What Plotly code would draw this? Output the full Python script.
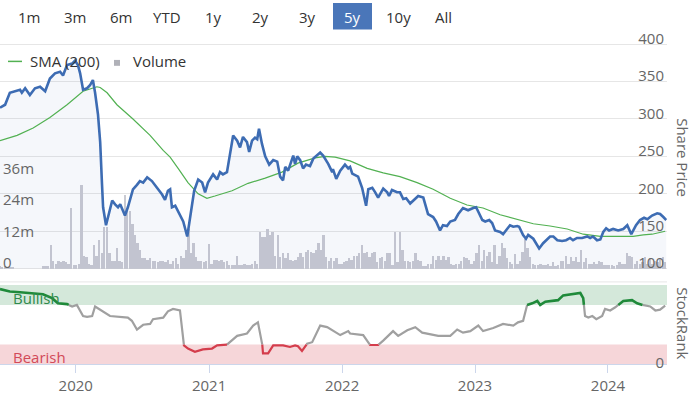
import numpy as np
import pandas as pd
import plotly.graph_objects as go

# ---------------- data ----------------
price_dates = [
    "2019-06-07", "2019-06-21", "2019-07-04", "2019-07-18", "2019-08-01", "2019-08-06", "2019-08-15", "2019-08-28",
    "2019-09-11", "2019-09-25", "2019-10-09", "2019-10-22", "2019-11-05", "2019-11-19", "2019-11-27", "2019-12-08",
    "2019-12-22", "2019-12-30",
    "2020-01-07", "2020-01-13", "2020-01-21", "2020-02-01", "2020-02-09", "2020-02-17", "2020-02-23", "2020-03-02",
    "2020-03-08", "2020-03-13", "2020-03-16", "2020-03-24", "2020-03-30", "2020-04-10", "2020-04-18", "2020-04-26",
    "2020-05-02", "2020-05-15", "2020-05-23", "2020-06-06", "2020-06-17", "2020-06-25", "2020-07-04", "2020-07-15",
    "2020-07-28", "2020-08-11", "2020-08-25", "2020-09-02", "2020-09-10", "2020-09-16", "2020-09-21", "2020-09-30",
    "2020-10-13", "2020-10-22", "2020-11-02", "2020-11-15", "2020-11-21", "2020-12-02", "2020-12-13", "2020-12-21",
    "2020-12-29",
    "2021-01-12", "2021-01-23", "2021-01-31", "2021-02-08", "2021-02-19", "2021-02-28", "2021-03-08", "2021-03-19",
    "2021-03-27", "2021-04-04", "2021-04-15", "2021-04-21", "2021-04-29", "2021-05-07", "2021-05-13", "2021-05-18",
    "2021-05-26", "2021-06-04", "2021-06-15", "2021-06-26", "2021-07-07", "2021-07-15", "2021-07-23", "2021-07-29",
    "2021-08-06", "2021-08-20", "2021-08-25", "2021-08-31", "2021-09-08", "2021-09-16", "2021-09-24", "2021-10-05",
    "2021-10-14", "2021-11-02", "2021-11-10", "2021-11-24", "2021-12-05", "2021-12-07", "2021-12-16", "2021-12-27",
    "2022-01-09", "2022-01-18", "2022-01-23", "2022-01-29", "2022-02-14", "2022-02-25", "2022-03-08", "2022-03-14",
    "2022-03-25", "2022-04-02", "2022-04-10", "2022-04-24", "2022-05-05", "2022-05-10", "2022-05-18", "2022-06-01",
    "2022-06-09", "2022-06-18", "2022-06-26", "2022-07-07", "2022-07-15", "2022-07-29", "2022-08-12", "2022-08-20",
    "2022-08-25", "2022-09-08", "2022-09-16", "2022-09-27", "2022-10-05", "2022-10-16", "2022-10-25", "2022-11-07",
    "2022-11-16", "2022-11-29", "2022-12-13", "2022-12-27",
    "2023-01-04", "2023-01-10", "2023-01-21", "2023-01-29", "2023-02-09", "2023-02-17", "2023-02-25", "2023-03-11",
    "2023-03-19", "2023-03-30", "2023-04-07", "2023-04-16", "2023-04-27", "2023-05-02", "2023-05-13", "2023-05-21",
    "2023-05-27", "2023-06-10", "2023-06-21", "2023-06-26", "2023-07-07", "2023-07-18", "2023-07-26", "2023-08-04",
    "2023-08-15", "2023-08-28", "2023-09-08", "2023-09-19", "2023-09-27", "2023-10-08", "2023-10-22", "2023-11-05",
    "2023-11-13", "2023-11-21", "2023-12-02", "2023-12-11", "2023-12-19", "2023-12-27",
    "2024-01-04", "2024-01-15", "2024-01-29", "2024-02-12", "2024-02-23", "2024-03-05", "2024-03-18", "2024-03-29",
    "2024-04-09", "2024-04-18", "2024-05-01", "2024-05-15", "2024-05-23", "2024-06-01", "2024-06-09",
]
price_values = [
    315, 319, 335, 337, 339, 335, 341, 332, 341, 343, 337, 354, 361, 363, 358, 372, 374, 378,
    372, 361, 339, 341, 345, 352, 335, 306, 269, 213, 182, 158, 169, 191, 186, 182, 186, 171, 182, 206, 212, 217,
    215, 222, 217, 208, 199, 192, 204, 206, 182, 184, 171, 163, 143, 189, 204, 219, 215, 202, 215,
    226, 219, 229, 226, 229, 256, 278, 271, 262, 276, 269, 256, 271, 275, 273, 287, 267, 250, 239, 245,
    243, 223, 218, 236, 231, 251, 240, 250, 245, 234, 239, 237, 247, 255, 251, 240, 229, 233, 220, 231,
    239, 234, 236, 227, 223, 208, 184, 206, 208, 202, 195, 207, 202, 197, 205, 202, 202, 193, 194, 187,
    191, 197, 195, 182, 173, 169, 163, 151, 158, 157, 163, 165, 173, 181, 178, 181,
    182, 176, 165, 163, 165, 161, 151, 149, 146, 153, 158, 156, 157, 156, 145, 140, 145, 140, 132, 127,
    134, 140, 143, 143, 138, 137, 138, 141, 138, 141, 141, 143, 141, 143, 138, 139, 149, 154,
    151, 153, 151, 153, 158, 146, 158, 165, 168, 166, 171, 174, 173, 169, 165,
]

sma_dates = [
    "2019-06-07", "2019-07-24", "2019-09-06", "2019-10-22", "2019-12-08", "2020-01-21", "2020-02-28", "2020-03-08",
    "2020-03-27", "2020-04-23", "2020-06-06", "2020-07-23", "2020-08-28", "2020-09-16", "2020-10-08", "2020-11-04",
    "2020-12-02", "2020-12-26", "2021-01-17", "2021-03-05", "2021-04-18", "2021-06-04", "2021-07-20", "2021-09-02",
    "2021-10-19", "2021-11-15", "2021-12-13", "2022-01-23", "2022-03-11", "2022-04-24", "2022-06-09", "2022-07-26",
    "2022-09-08", "2022-10-25", "2022-12-10", "2023-01-23", "2023-03-11", "2023-04-27", "2023-06-10", "2023-07-26",
    "2023-09-11", "2023-10-25", "2023-12-11", "2024-01-26", "2024-03-10", "2024-04-07", "2024-05-01", "2024-06-06",
]
sma_values = [
    271, 278, 288, 302, 319, 337, 343, 342, 335, 319, 300, 278, 258, 249, 234, 215,
    200, 194, 197, 204, 214, 221, 229, 241, 248, 250, 249, 244, 234, 228, 223, 215,
    206, 194, 185, 181, 172, 166, 160, 157, 153, 146, 143, 143, 143, 145, 146, 150,
]

volume_start = "2019-06-07"   # weekly bars
volume_millions = [
    1.0, 0.8, 1.2, 0.6, 0.9, 0.5, 0, 0, 0, 0, 0, 0, 0, 0, 0, 0, 0, 1.0, 1.0, 1.2,
    9, 3, 2, 3, 2.5, 3, 2.5, 2, 23, 1.5, 1.5, 2, 32, 5, 4.5, 2, 1.5, 9, 5, 11,
    6, 16, 16, 6, 3, 3, 8, 3, 2.5, 28, 22, 22, 17, 13, 10, 7, 4, 4, 3.5, 4,
    3, 3, 2.5, 3, 3, 2.5, 3.5, 2, 3, 4, 2, 5, 4, 7, 15, 6, 10, 4.5, 3, 3,
    2.5, 3, 9.5, 2, 3.5, 3.5, 3, 3.5, 2.5, 3, 1.5, 1.5, 1.5, 5, 1.5, 1.5, 2, 1.5, 1.5, 2,
    3, 2, 14, 12, 12, 15, 13, 14, 5, 13, 4.5, 6, 4, 6, 3.5, 3, 3.5, 4.5, 6, 4.5,
    6.5, 7, 6.5, 6, 7, 10, 7, 13, 4.5, 3, 4, 3, 4, 2, 2, 2.5, 3, 4, 3.5, 5,
    5, 6, 9, 6, 6.5, 4.5, 6, 6.5, 2.5, 4, 4.5, 3, 6, 6, 1.5, 14, 2.5, 14, 7, 3,
    3, 2.5, 3, 6, 3.5, 3, 1, 1, 2, 2, 5, 3.5, 5, 3.5, 5, 3.5, 4.5, 2, 1.5, 2,
    2, 3, 4.5, 4, 3.5, 2, 3, 6, 9, 3, 7, 5, 6.5, 2.5, 9, 2, 5, 10, 8, 4,
    2.5, 2, 5.5, 2, 3, 6.5, 11.5, 8, 4.5, 2, 1.5, 1.5, 2, 1.5, 1.5, 2, 1, 2.5, 1, 1.5,
    3, 3, 5, 2, 4.5, 3, 4.5, 2.5, 7, 2.5, 4, 2, 2, 2.5, 2, 3, 2.5, 1.5, 1.5, 1.5,
    1.5, 1, 1.5, 2.5, 2, 2, 6, 5, 4.5, 2, 3, 2, 2.5, 4.5, 2, 4, 2, 3, 2.5, 4,
    4.5, 2.5,
]

rank_dates = [
    "2019-06-07", "2019-07-04", "2019-08-01", "2019-09-06", "2019-10-03", "2019-10-28", "2019-11-13", "2019-12-08",
    "2019-12-22", "2020-01-04", "2020-01-21", "2020-02-01", "2020-02-15", "2020-02-23", "2020-03-08", "2020-04-04",
    "2020-05-23", "2020-06-03", "2020-06-17", "2020-07-04", "2020-07-23", "2020-07-31", "2020-08-28", "2020-09-10",
    "2020-09-24", "2020-10-13", "2020-10-24", "2020-11-04", "2020-11-23", "2020-12-15", "2021-01-09", "2021-01-23",
    "2021-02-19", "2021-03-08", "2021-03-19", "2021-04-15", "2021-04-24", "2021-05-02", "2021-05-15", "2021-05-26",
    "2021-05-29", "2021-06-12", "2021-06-26", "2021-07-09", "2021-07-23", "2021-08-11", "2021-08-25", "2021-09-02",
    "2021-09-13", "2021-09-27", "2021-10-11", "2021-10-19", "2021-11-02", "2021-11-21", "2021-12-27", "2022-01-18",
    "2022-01-23", "2022-02-28", "2022-03-19", "2022-04-10", "2022-04-24", "2022-05-21", "2022-06-04", "2022-06-29",
    "2022-07-21", "2022-08-09", "2022-08-31", "2022-09-22", "2022-10-25", "2022-11-13", "2022-11-29", "2022-12-19",
    "2023-01-10", "2023-01-23", "2023-02-20", "2023-03-19", "2023-04-16", "2023-04-29", "2023-05-13", "2023-05-24",
    "2023-06-07", "2023-06-21", "2023-06-29", "2023-07-13", "2023-08-04", "2023-08-17", "2023-08-31", "2023-09-19",
    "2023-10-17", "2023-10-25", "2023-10-30", "2023-11-08", "2023-11-19", "2023-11-30", "2023-12-16", "2023-12-24",
    "2024-01-07", "2024-01-21", "2024-02-12", "2024-03-07", "2024-03-21", "2024-04-12", "2024-04-26", "2024-05-10",
    "2024-05-23", "2024-06-06",
]
rank_values = [
    95, 92, 91, 90, 88.5, 83.5, 77, 76, 73, 75, 61, 60, 61, 73, 69, 61,
    59, 55, 44, 50, 51, 57, 59, 67, 70, 68, 24, 20, 16, 19, 20, 24,
    25, 32, 36, 39, 44, 49, 53, 30, 14, 14, 24, 24, 24, 22, 24, 23,
    17, 26, 28, 36, 49, 47, 37, 42, 39, 37, 24.5, 24.5, 30, 42, 36, 43,
    47, 40, 38, 36, 36, 44, 40, 42, 49, 42, 46, 51, 49, 53, 55, 75,
    77, 80, 75, 79, 80, 81, 87, 88.5, 90, 83.5, 61, 59, 61, 57, 61, 70,
    68, 72, 80, 81, 77, 74, 73, 68, 69, 74,
]

range_buttons = ["1m", "3m", "6m", "YTD", "1y", "2y", "3y", "5y", "10y", "All"]
selected_button = "5y"
year_ticks = ["2020-01-01", "2021-01-01", "2022-01-01", "2023-01-01", "2024-01-01"]
year_labels = ["2020", "2021", "2022", "2023", "2024"]
price_ticks = [100, 150, 200, 250, 300, 350, 400]
price_floor = 100
volume_ticks = [0, 12, 24, 36]
rank_ticks = [0]
bull_level, bear_level = 75, 25

# ---------------- layout constants ----------------
W, H = 700, 395
X_START, X_END = "2019-06-07", "2024-06-11"
XR = 667 / W


def py(p):
    return 1 - p / H


# price panel: 100 at y=273.5px, 0.762 px per unit; domain padded so edge labels are not hidden
PX_PER_UNIT = 0.762
P_BASE_PX, P_DOM_BOTTOM_PX, P_DOM_TOP_PX = 273.5, 284.0, 12.0
PRICE_RANGE = [price_floor - (P_DOM_BOTTOM_PX - P_BASE_PX) / PX_PER_UNIT,
               price_floor + (P_BASE_PX - P_DOM_TOP_PX) / PX_PER_UNIT]
PRICE_DOM = [py(P_DOM_BOTTOM_PX), py(P_DOM_TOP_PX)]
VOL_PX_PER_M = 96.5 / 36
VOL_RANGE = [-(P_DOM_BOTTOM_PX - P_BASE_PX) / VOL_PX_PER_M, (P_BASE_PX - P_DOM_TOP_PX) / VOL_PX_PER_M]

# rank panel: 0 at y=371px, 104 at 287px; domain padded below for the "0" label
R_BASE_PX, R_TOP_PX, R_DOM_BOTTOM_PX = 371.0, 287.0, 383.0
R_PX_PER_UNIT = (R_BASE_PX - R_TOP_PX) / 104
RANK_RANGE = [-(R_DOM_BOTTOM_PX - R_BASE_PX) / R_PX_PER_UNIT, 104]
RANK_DOM = [py(R_DOM_BOTTOM_PX), py(R_TOP_PX)]

BLUE = "#3d6cb3"
SMA_GREEN = "#52b152"
VOL_GRAY = "#c9cad2"
GRID = "#e6e6e6"
TICK_FONT = dict(family="Open Sans", size=15, color="#666666")

fig = go.Figure()

# volume (base axis y, left)
vol_dates = pd.date_range(volume_start, periods=len(volume_millions), freq="7D")
fig.add_trace(go.Bar(x=vol_dates, y=volume_millions, marker=dict(color=VOL_GRAY, line=dict(width=0)),
                     width=5 * 86400000, xaxis="x", yaxis="y", hoverinfo="skip"))
# price area fill down to the 100 floor
pdates = pd.to_datetime(price_dates)
fig.add_trace(go.Scatter(x=[pdates[0], pdates[-1]], y=[price_floor, price_floor], mode="lines",
                         line=dict(width=0), xaxis="x", yaxis="y3", hoverinfo="skip"))
fig.add_trace(go.Scatter(x=pdates, y=price_values, mode="lines", line=dict(width=0),
                         fill="tonexty", fillcolor="rgba(70,105,190,0.055)", xaxis="x", yaxis="y3",
                         hoverinfo="skip"))
# SMA
fig.add_trace(go.Scatter(x=pd.to_datetime(sma_dates), y=sma_values, mode="lines",
                         line=dict(color=SMA_GREEN, width=1.2), xaxis="x", yaxis="y3"))
# price line
fig.add_trace(go.Scatter(x=pdates, y=price_values, mode="lines",
                         line=dict(color=BLUE, width=2.6), xaxis="x", yaxis="y3"))

# StockRank line, coloured by zone
t = pd.to_datetime(rank_dates).astype("int64").to_numpy() / 1e6
v = np.array(rank_values, dtype=float)


def zone(val):
    return "bull" if val > bull_level else ("bear" if val < bear_level else "mid")


segs = {"bull": ([], []), "bear": ([], []), "mid": ([], [])}
last = {"bull": None, "bear": None, "mid": None}
for i in range(len(v) - 1):
    t0, t1, v0, v1 = t[i], t[i + 1], v[i], v[i + 1]
    cuts = [0.0, 1.0]
    for th in (bear_level, bull_level):
        if (v0 - th) * (v1 - th) < 0:
            cuts.append((th - v0) / (v1 - v0))
    cuts.sort()
    for a, b in zip(cuts[:-1], cuts[1:]):
        c = zone(v0 + (v1 - v0) * (a + b) / 2)
        xs, ys = segs[c]
        ta, va = t0 + (t1 - t0) * a, v0 + (v1 - v0) * a
        tb, vb = t0 + (t1 - t0) * b, v0 + (v1 - v0) * b
        if last[c] is None or abs(last[c] - ta) > 1:
            if xs:
                xs.append(None)
                ys.append(None)
            xs.append(ta)
            ys.append(va)
        xs.append(tb)
        ys.append(vb)
        last[c] = tb

rank_style = {"mid": ("#a0a0a0", 2.2), "bull": ("#1f8a3a", 2.6), "bear": ("#d43d4c", 2.2)}
for key in ("mid", "bull", "bear"):
    xs, ys = segs[key]
    xd = [pd.to_datetime(x, unit="ms") if x is not None else None for x in xs]
    col, wd = rank_style[key]
    fig.add_trace(go.Scatter(x=xd, y=ys, mode="lines", line=dict(color=col, width=wd),
                             connectgaps=False, xaxis="x2", yaxis="y2"))

shapes = [
    dict(type="rect", xref="paper", yref="y2", x0=0, x1=XR, y0=bull_level, y1=100,
         fillcolor="#d4e8da", line=dict(width=0), layer="below"),
    dict(type="rect", xref="paper", yref="y2", x0=0, x1=XR, y0=0, y1=bear_level,
         fillcolor="#f6d6d9", line=dict(width=0), layer="below"),
    dict(type="line", xref="paper", yref="paper", x0=0, x1=XR, y0=py(287), y1=py(287),
         line=dict(color=GRID, width=1)),
    # legend symbols
    dict(type="line", xref="paper", yref="paper", x0=8 / W, x1=22 / W, y0=py(62.5), y1=py(62.5),
         line=dict(color=SMA_GREEN, width=1.5)),
    dict(type="rect", xref="paper", yref="paper", x0=114 / W, x1=120 / W, y0=py(67), y1=py(61),
         fillcolor="#b0b1b8", line=dict(width=0)),
]

button_x = [29, 75, 121, 167, 213, 260, 307, 352, 399, 444]
annotations = []
for lbl, bx in zip(range_buttons, button_x):
    sel = lbl == selected_button
    if sel:
        shapes.append(dict(type="rect", xref="paper", yref="paper", x0=333 / W, x1=372 / W,
                           y0=py(30), y1=py(3), fillcolor="#4a76b9", line=dict(width=0)))
    annotations.append(dict(x=bx / W, y=py(17), xref="paper", yref="paper", text=lbl, showarrow=False,
                            xanchor="center", yanchor="middle",
                            font=dict(family="Open Sans", size=15, color="white" if sel else "#333333")))

annotations += [
    dict(x=28 / W, y=py(62), xref="paper", yref="paper", text="SMA (200)", showarrow=False,
         xanchor="left", yanchor="middle", font=dict(family="Open Sans", size=15, color="#333333")),
    dict(x=131 / W, y=py(62), xref="paper", yref="paper", text="Volume", showarrow=False,
         xanchor="left", yanchor="middle", font=dict(family="Open Sans", size=15, color="#333333")),
    dict(x=683 / W, y=py(160), xref="paper", yref="paper", text="Share Price", showarrow=False,
         textangle=90, xanchor="center", yanchor="middle", font=dict(family="Open Sans", size=15, color="#666666")),
    dict(x=683 / W, y=py(329), xref="paper", yref="paper", text="StockRank", showarrow=False,
         textangle=90, xanchor="center", yanchor="middle", font=dict(family="Open Sans", size=15, color="#666666")),
    dict(x=11 / W, y=py(303), xref="paper", yref="paper", text="Bullish", showarrow=False,
         xanchor="left", yanchor="middle", font=dict(family="Open Sans", size=15, color="#2f8a4c")),
    dict(x=11 / W, y=py(363), xref="paper", yref="paper", text="Bearish", showarrow=False,
         xanchor="left", yanchor="middle", font=dict(family="Open Sans", size=15, color="#d24a58")),
]

fig.update_layout(
    width=W, height=H, margin=dict(l=0, r=0, t=0, b=0, pad=0),
    paper_bgcolor="white", plot_bgcolor="white", showlegend=False,
    font=dict(family="Open Sans", size=15, color="#333333"),
    xaxis=dict(domain=[0, XR], range=[X_START, X_END], anchor="y", showticklabels=False,
               showgrid=False, zeroline=False, showline=False, ticks=""),
    yaxis=dict(domain=PRICE_DOM, range=VOL_RANGE, side="left", tickvals=volume_ticks,
               ticktext=[("%dm" % k) if k else "0" for k in volume_ticks], ticklabelposition="inside top",
               ticklabelshift=5,
               showgrid=False, zeroline=False, showline=False, ticks="", tickfont=TICK_FONT, anchor="x"),
    yaxis3=dict(overlaying="y", side="right", range=PRICE_RANGE, tickvals=price_ticks,
                ticklabelposition="inside top", ticklabelshift=5, showgrid=True, gridcolor=GRID, gridwidth=1,
                zeroline=False, showline=False, ticks="", tickfont=TICK_FONT, anchor="x"),
    xaxis2=dict(domain=[0, XR], range=[X_START, X_END], anchor="free", position=py(R_BASE_PX),
                tickvals=year_ticks, ticktext=year_labels,
                ticks="outside", ticklen=8, tickcolor="#ccd6eb", showline=True, linecolor="#ccd6eb",
                showgrid=False, zeroline=False, tickfont=TICK_FONT),
    yaxis2=dict(domain=RANK_DOM, range=RANK_RANGE, side="right", anchor="x2", tickvals=rank_ticks,
                ticklabelposition="inside top", ticklabelshift=9, showgrid=False, zeroline=False,
                showline=False, ticks="", tickfont=TICK_FONT),
    shapes=shapes, annotations=annotations, bargap=0,
)

fig.write_html("out.html", config={"displayModeBar": False},
               post_script="document.body.style.margin='0px';document.body.style.padding='0px';")
